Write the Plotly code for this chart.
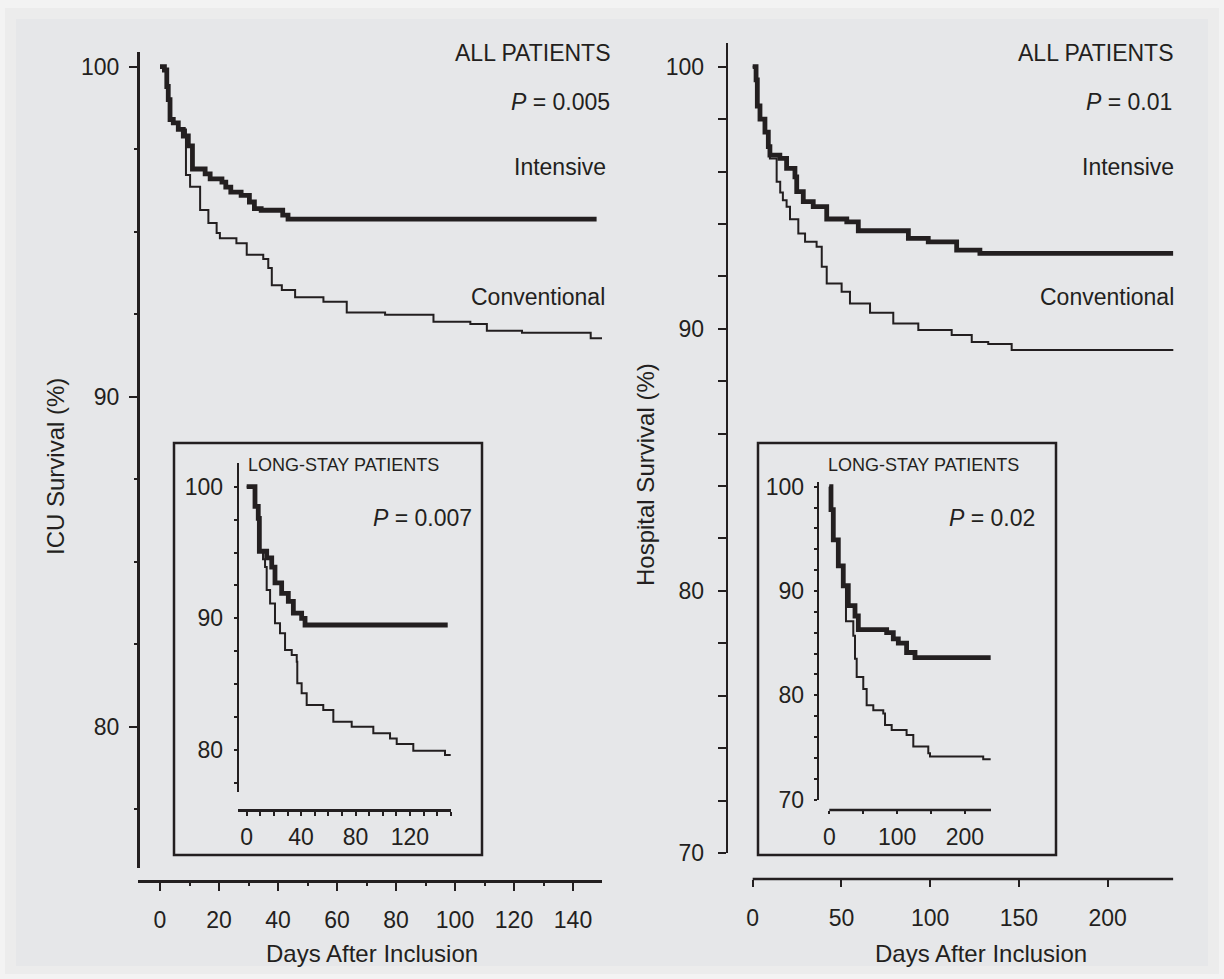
import plotly.graph_objects as go

# ---------------- data (days, survival %) ----------------
# ICU survival, all patients
icu_int_days = [0, 1.5, 2.3, 2.8, 3.4, 4.5, 6.2, 7.9, 9.6, 11, 15.3, 17, 21, 22.3, 24, 27.5, 30.3, 32, 34.3, 41.6, 43.4, 148]
icu_int_surv = [100, 99.9, 99.4, 99.0, 98.4, 98.3, 98.1, 97.9, 97.6, 96.9, 96.75, 96.6, 96.5, 96.35, 96.2, 96.1, 95.9, 95.7, 95.65, 95.5, 95.38, 95.38]
icu_con_days = [0, 1.5, 2.3, 2.8, 3.4, 4.5, 6.2, 8.8, 10.2, 13.6, 16.4, 19.2, 20.3, 25.9, 29.4, 35, 36.7, 37.9, 41.3, 45.8, 55.4, 63.3, 76.3, 92.7, 105.2, 110.8, 122.7, 146, 150]
icu_con_surv = [100, 99.9, 99.4, 99.0, 98.4, 98.3, 98.1, 96.72, 96.36, 95.66, 95.26, 94.96, 94.8, 94.65, 94.3, 94.17, 93.9, 93.38, 93.23, 93.01, 92.88, 92.55, 92.48, 92.27, 92.2, 92.0, 91.94, 91.77, 91.77]

# ICU survival, long-stay patients (inset)
icu_ls_int_days = [0, 6.1, 8.5, 9.3, 14.7, 18.4, 20.8, 25.7, 30.6, 34.3, 40.4, 42.9, 147.8]
icu_ls_int_surv = [100, 98.5, 97.6, 95.1, 94.6, 93.9, 92.7, 91.9, 91.3, 90.4, 90.0, 89.5, 89.5]
icu_ls_con_days = [0, 6.1, 8.5, 9.3, 12, 13.5, 14.7, 17.2, 20.8, 24.5, 28.2, 33.1, 36.8, 37.2, 40.4, 44.1, 56.3, 63.7, 77.2, 93.1, 105.4, 110.3, 122.5, 145.8, 150]
icu_ls_con_surv = [100, 98.5, 97.6, 95.1, 94.5, 93.9, 92.15, 91.14, 89.63, 88.87, 87.6, 87.22, 86.71, 85.07, 84.31, 83.42, 83.04, 82.16, 81.78, 81.27, 80.89, 80.46, 79.95, 79.63, 79.63]

# Hospital survival, all patients
hosp_int_days = [0, 1.9, 2.6, 4.1, 6.9, 8.8, 9.7, 15.3, 19.1, 23.8, 24.8, 28.5, 34.1, 41.7, 53, 59.5, 87.7, 98.9, 114.9, 128, 237]
hosp_int_surv = [100, 99.5, 98.5, 98.0, 97.5, 96.95, 96.63, 96.5, 96.12, 95.8, 95.23, 94.85, 94.66, 94.19, 94.08, 93.74, 93.45, 93.32, 93.0, 92.88, 92.88]
hosp_con_days = [0, 1.9, 2.6, 4.1, 6.9, 8.8, 9.7, 13.5, 15.5, 17, 19.1, 21, 25.7, 29.5, 36, 38.9, 41.7, 50.1, 54.8, 66.1, 79.2, 93.3, 112.1, 123.4, 132.7, 145.9, 238]
hosp_con_surv = [100, 99.5, 98.5, 98.0, 97.5, 96.95, 96.5, 95.61, 95.2, 94.9, 94.66, 94.18, 93.64, 93.32, 93.13, 92.37, 91.73, 91.41, 90.97, 90.61, 90.2, 89.95, 89.76, 89.5, 89.42, 89.19, 89.19]

# Hospital survival, long-stay patients (inset)
hosp_ls_int_days = [0, 2.5, 5.9, 13.3, 20.6, 28, 37.9, 42.8, 84.6, 94.4, 101.8, 114, 126.4, 238]
hosp_ls_int_surv = [100, 97.8, 94.9, 92.4, 90.5, 88.6, 87.6, 86.3, 86.0, 85.4, 85.0, 84.1, 83.6, 83.6]
hosp_ls_con_days = [0, 2.5, 5.9, 13.3, 20.6, 24.6, 35.4, 37.9, 40.4, 50.1, 55.1, 64.9, 79.6, 82.2, 92, 114, 123.9, 146, 148.5, 227, 238]
hosp_ls_con_surv = [100, 97.8, 94.9, 92.4, 90.5, 87.1, 85.7, 83.5, 81.75, 80.6, 79.05, 78.57, 78.25, 77.14, 76.67, 76.19, 75.08, 74.44, 74.13, 73.87, 73.87]

# ---------------- layout helpers ----------------
W, H = 1224, 979
INK = "#231f20"
FONT = "Liberation Sans, Arial, Helvetica, sans-serif"


def fx(px):
    return px / W


def fy(py):
    return 1 - py / H


fig = go.Figure()


def km(days, surv, xa, ya, width):
    fig.add_trace(go.Scatter(x=days, y=surv, mode="lines", xaxis=xa, yaxis=ya,
                             line=dict(color=INK, width=width, shape="hv"),
                             hoverinfo="skip", showlegend=False))


km(icu_con_days, icu_con_surv, "x", "y", 2)
km(icu_int_days, icu_int_surv, "x", "y", 4.8)
km(hosp_con_days, hosp_con_surv, "x2", "y2", 2)
km(hosp_int_days, hosp_int_surv, "x2", "y2", 4.8)
km(icu_ls_con_days, icu_ls_con_surv, "x3", "y3", 2)
km(icu_ls_int_days, icu_ls_int_surv, "x3", "y3", 4.8)
km(hosp_ls_con_days, hosp_ls_con_surv, "x4", "y4", 2)
km(hosp_ls_int_days, hosp_ls_int_surv, "x4", "y4", 4.8)

tickfont = dict(family=FONT, size=23, color=INK)


def xax(p0, p1, zero_px, ppd, ypos, dtick, mdtick, ticklen, mlen, showline=True, standoff=12):
    return dict(domain=[fx(p0), fx(p1)],
                range=[(p0 - zero_px) / ppd, (p1 - zero_px) / ppd],
                anchor="free", position=fy(ypos), automargin=False,
                showline=showline, linecolor=INK, linewidth=2.5,
                showgrid=False, zeroline=False,
                ticks="outside", tickmode="linear", tick0=0, dtick=dtick,
                ticklen=ticklen, tickwidth=2, tickcolor=INK,
                minor=dict(ticks="outside", dtick=mdtick, tick0=0, ticklen=mlen,
                           tickwidth=2, tickcolor=INK, showgrid=False),
                tickfont=tickfont, ticklabelstandoff=standoff, fixedrange=True)


def yax(ptop, pbot, v_top, v_bot, xpos, dtick, mdtick, ticklen, mlen, standoff=8):
    return dict(domain=[fy(pbot), fy(ptop)],
                range=[v_bot, v_top],
                anchor="free", position=fx(xpos), automargin=False,
                showline=True, linecolor=INK, linewidth=2.5,
                showgrid=False, zeroline=False,
                ticks="outside", tickmode="linear", tick0=0, dtick=dtick,
                ticklen=ticklen, tickwidth=2, tickcolor=INK,
                minor=dict(ticks="outside", dtick=mdtick, tick0=0, ticklen=mlen,
                           tickwidth=2, tickcolor=INK, showgrid=False),
                tickfont=tickfont, ticklabelstandoff=standoff, fixedrange=True)


fig.update_layout(
    # main ICU panel: 100% at y=66.7px, 33 px per %, day 0 at x=160, 2.95 px/day
    xaxis=xax(138, 602, 160, 2.95, 881, 20, 10, 8, 3, standoff=10),
    yaxis=yax(51.7, 868, 100 + (66.7 - 51.7) / 33, 100 - (868 - 66.7) / 33, 138, 10, 2.5, 8, 3, standoff=5),
    # main hospital panel: 100% at 66.7, 26.21 px per %, day 0 at 752.7, 1.775 px/day
    xaxis2=xax(745, 1173.3, 752.7, 1.775, 879, 50, 50, 7, 7, showline=False, standoff=11),
    yaxis2=yax(43.3, 853, 100 + (66.7 - 43.3) / 26.21, 70, 726.7, 10, 2, 8, 8, standoff=9),
    # ICU inset: 100% at 486.7, 13.17 px per %, day 0 at 246.7, 1.36 px/day
    xaxis3=xax(237.7, 451, 246.7, 1.36, 810, 40, 10, 4, 4, standoff=2),
    yaxis3=yax(463.3, 791.7, 100 + (486.7 - 463.3) / 13.17, 100 - (791.7 - 486.7) / 13.17, 237.7, 10, 2.5, 3, 3, standoff=6),
    # hospital inset: 100% at 486.7, 10.43 px per %, day 0 at 829.3, 0.678 px/day
    xaxis4=xax(821, 991, 829.3, 0.678, 810, 100, 50, 3, 3, showline=False, standoff=3),
    yaxis4=yax(481.7, 799.5, 100 + (486.7 - 481.7) / 10.43, 70, 817.7, 10, 2, 3, 3, standoff=5),
)

shapes = [
    # background frame
    dict(type="rect", xref="paper", yref="paper", x0=fx(5), x1=fx(1219), y0=fy(974), y1=fy(8),
         fillcolor="#ececec", line=dict(width=0), layer="below"),
    dict(type="rect", xref="paper", yref="paper", x0=fx(16), x1=fx(1208), y0=fy(966), y1=fy(19),
         fillcolor="#e6e7e9", line=dict(width=0), layer="below"),
    # inset frames
    dict(type="rect", xref="paper", yref="paper", x0=fx(174), x1=fx(482), y0=fy(855), y1=fy(443),
         line=dict(color=INK, width=2.5)),
    dict(type="rect", xref="paper", yref="paper", x0=fx(758), x1=fx(1056), y0=fy(855), y1=fy(443),
         line=dict(color=INK, width=2.5)),
    # x-axis lines that begin at day 0
    dict(type="line", xref="x2", yref="paper", x0=0, x1=237, y0=fy(879), y1=fy(879),
         line=dict(color=INK, width=2.5)),
    dict(type="line", xref="x4", yref="paper", x0=0, x1=238.5, y0=fy(810), y1=fy(810),
         line=dict(color=INK, width=2.5)),
]
fig.update_layout(shapes=shapes)


def note(text, xpx, ypx, anchor="right", size=23, angle=0):
    fig.add_annotation(text=text, xref="paper", yref="paper", x=fx(xpx), y=fy(ypx),
                       xanchor=anchor, yanchor="middle", showarrow=False, textangle=angle,
                       font=dict(family=FONT, size=size, color=INK))


note("ALL PATIENTS", 613, 53)
note("<i>P</i> = 0.005", 612, 102)
note("Intensive", 608, 167)
note("Conventional", 607, 297)
note("ALL PATIENTS", 1176, 53)
note("<i>P</i> = 0.01", 1174, 102)
note("Intensive", 1176, 167)
note("Conventional", 1176, 297)
note("LONG-STAY PATIENTS", 246, 465, anchor="left", size=18)
note("<i>P</i> = 0.007", 474, 518)
note("LONG-STAY PATIENTS", 826, 465, anchor="left", size=18)
note("<i>P</i> = 0.02", 1037, 518)
note("Days After Inclusion", 372.5, 953, anchor="center", size=24)
note("Days After Inclusion", 981, 953, anchor="center", size=24)
note("ICU Survival (%)", 55, 467, anchor="center", size=24, angle=-90)
note("Hospital Survival (%)", 645, 475, anchor="center", size=24, angle=-90)

fig.update_layout(width=W, height=H, margin=dict(l=0, r=0, t=0, b=0, autoexpand=False),
                  paper_bgcolor="#f3f3f3", plot_bgcolor="rgba(0,0,0,0)",
                  showlegend=False, font=dict(family=FONT, color=INK))

fig.write_html("out.html", config={"displayModeBar": False, "staticPlot": True},
               post_script="document.body.style.margin='0';document.body.style.overflow='hidden';")
